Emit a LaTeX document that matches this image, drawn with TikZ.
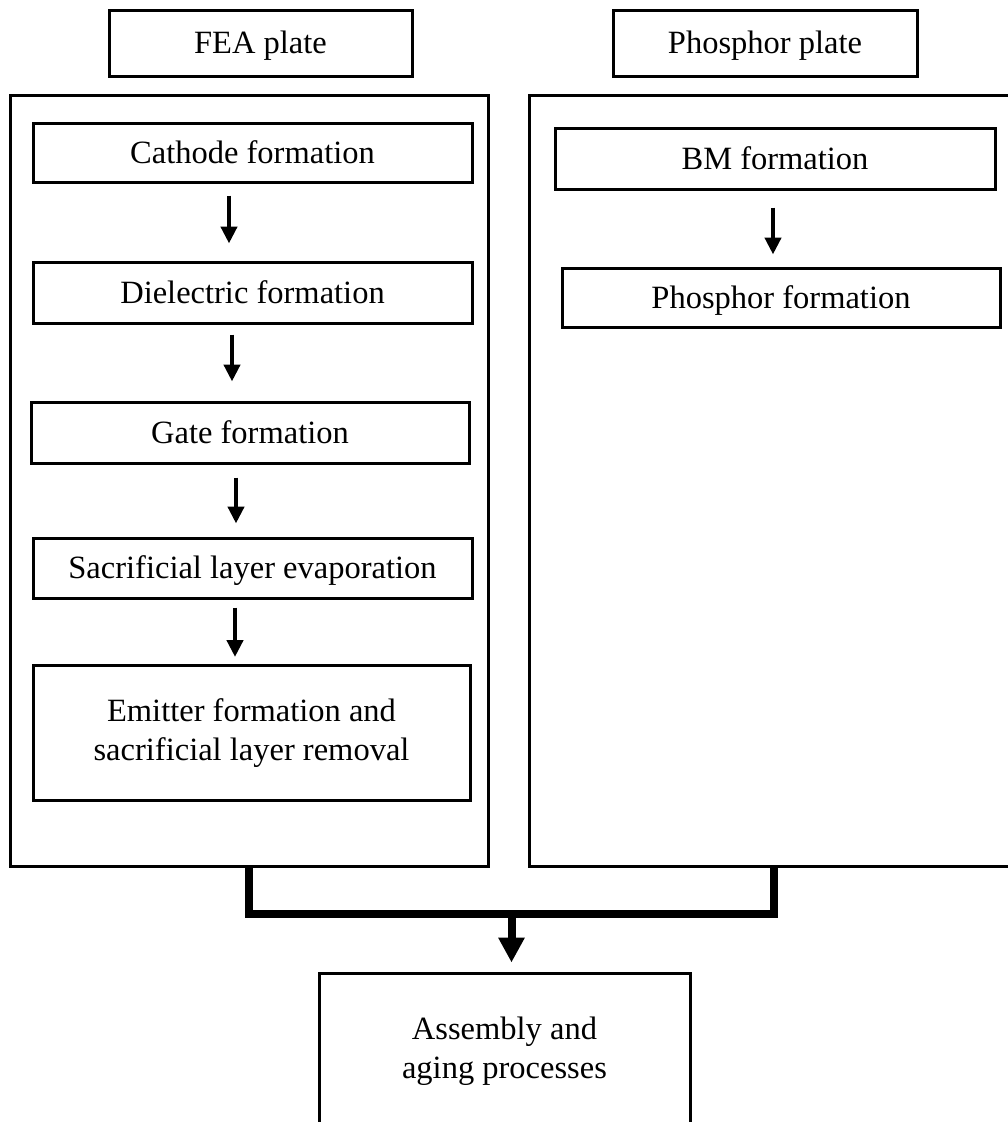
\documentclass[tikz,border=0pt]{standalone}
\usepackage{fontspec}
\setmainfont{Liberation Serif}
\usetikzlibrary{arrows.meta,calc}
\begin{document}
\begin{tikzpicture}[x=1pt,y=-1pt,
  box/.style={draw=black, line width=3pt, fill=none, inner sep=0pt, align=center,
    font=\fontsize{32.5}{39}\selectfont},
  onebox/.style={box, text height=22.5pt, text depth=1.5pt},
  panel/.style={draw=black, line width=3pt, inner sep=0pt},
  arr/.style={line width=4.5pt, -{Triangle[width=16pt,length=17pt]}},
  bus/.style={line width=8pt, miter limit=10},
  bigarr/.style={line width=8pt, -{Triangle[width=25pt,length=25pt]}}]
\useasboundingbox (0,0) rectangle (1008,1122);
\clip (0,0) rectangle (1008,1122);

% column headings
\node[onebox, minimum width=303, minimum height=66] (fea) at (260.5,43) {FEA plate};
\node[onebox, minimum width=304, minimum height=66] (php) at (765,43) {Phosphor plate};

% frames holding the two process chains
\node[panel, minimum width=478, minimum height=771] (lp) at (249,480.5) {};
\node[panel, minimum width=490, minimum height=771] (rp) at (774,480.5) {};

% FEA plate steps
\node[onebox, minimum width=439, minimum height=59] (cath) at (252.5,152.5) {Cathode formation};
\node[onebox, minimum width=439, minimum height=61] (diel) at (252.5,292.5) {Dielectric formation};
\node[onebox, minimum width=438, minimum height=61] (gate) at (250,432.5) {Gate formation};
\node[onebox, minimum width=439, minimum height=60] (sacr) at (252.5,568) {Sacrificial layer evaporation};
\node[box, minimum width=437, minimum height=135] (emit) at (251.5,733)
  {Emitter formation and\\sacrificial layer removal};

% phosphor plate steps
\node[onebox, minimum width=440, minimum height=61] (bm) at (775,158.5) {BM formation};
\node[onebox, minimum width=438, minimum height=59] (phf) at (781,297.5) {Phosphor formation};

% final step
\node[box, minimum width=371, minimum height=156] (asm) at (504.5,1051)
  {Assembly and\\aging processes};

% step arrows
\coordinate (t1) at ([xshift=-23.5pt]cath.south);
\draw[arr, shorten <=12pt, shorten >=17pt] (t1) -- (t1 |- diel.north);
\coordinate (t2) at ([xshift=-20.5pt]diel.south);
\draw[arr, shorten <=10pt, shorten >=19pt] (t2) -- (t2 |- gate.north);
\coordinate (t3) at ([xshift=-14pt]gate.south);
\draw[arr, shorten <=13pt, shorten >=13pt] (t3) -- (t3 |- sacr.north);
\coordinate (t4) at ([xshift=-17.5pt]sacr.south);
\draw[arr, shorten <=8pt, shorten >=7pt] (t4) -- (t4 |- emit.north);
\coordinate (t5) at ([xshift=-2pt]bm.south);
\draw[arr, shorten <=17pt, shorten >=12pt] (t5) -- (t5 |- phf.north);

% merge of both chains into assembly
\draw[bus] (lp.south) -- ++(0,46) -| (rp.south);
\coordinate (j) at ($(lp.south)!0.5!(rp.south)+(0,46)$);
\draw[bigarr, shorten >=9pt] (j) -- (j |- asm.north);
\end{tikzpicture}
\end{document}
